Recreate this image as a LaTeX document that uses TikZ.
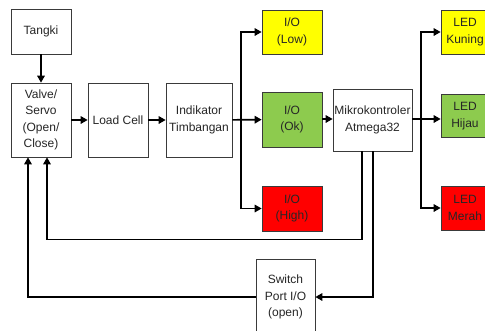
\documentclass[tikz,border=0pt]{standalone}
\usepackage{fontspec}
\setmainfont{Liberation Sans}
\usetikzlibrary{arrows.meta}
\definecolor{bxy}{HTML}{FFFF00}
\definecolor{bxg}{HTML}{8DCB4E}
\definecolor{bxr}{HTML}{FF0000}
\definecolor{bord}{HTML}{3A3A3A}
\begin{document}
\begin{tikzpicture}[x=1pt,y=-1pt,
  box/.style={draw=bord,line width=0.7pt,fill=white,align=center,inner sep=0pt,
    font=\fontsize{12}{16.5}\selectfont,text=black!85},
  conn/.style={line width=1.6pt,-{Triangle[length=7pt,width=7.5pt]}},
  plain/.style={line width=1.6pt}]
\useasboundingbox (0,0) rectangle (485,330);
\node[box,minimum width=60pt,minimum height=45pt] (tangki) at (41,31.5) {Tangki};
\node[box,minimum width=60pt,minimum height=74pt] (valve) at (41,120) {Valve/\\Servo\\(Open/\\Close)};
\node[box,minimum width=60pt,minimum height=74pt] (load) at (118,120) {Load Cell};
\node[box,minimum width=66pt,minimum height=74pt] (ind) at (199,120) {Indikator\\Timbangan};
\node[box,fill=bxy,minimum width=60pt,minimum height=44pt] (low) at (292,32) {I/O\\(Low)};
\node[box,fill=bxg,minimum width=60pt,minimum height=55pt] (ok) at (292,119.5) {I/O\\(Ok)};
\node[box,fill=bxr,minimum width=60pt,minimum height=45pt] (high) at (292,208.5) {I/O\\(High)};
\node[box,minimum width=79pt,minimum height=62pt] (mikro) at (372.5,120) {Mikrokontroler\\Atmega32};
\node[box,fill=bxy,minimum width=48pt,minimum height=44pt] (kuning) at (465,32) {LED\\Kuning};
\node[box,fill=bxg,minimum width=48pt,minimum height=43pt] (hijau) at (465,116) {LED\\Hijau};
\node[box,fill=bxr,minimum width=48pt,minimum height=44pt] (merah) at (465,208) {LED\\Merah};
\node[box,minimum width=59pt,minimum height=76pt] (switch) at (285.5,297) {Switch\\Port I/O\\(open)};
\coordinate (j1) at (241,120);
\coordinate (j2) at (421,119);
\draw[conn] (tangki) -- (valve);
\draw[conn] (valve) -- (load);
\draw[conn] (load) -- (ind);
\draw[conn] (ind) -- (ok);
\draw[conn] (j1) |- (low.west);
\draw[conn] (j1) |- (high.west);
\draw[conn] (ok.east |- 0,119) -- (mikro.west |- 0,119);
\draw[plain] (mikro.east |- j2) -- (j2);
\draw[conn] (j2) |- (kuning.west);
\draw[conn] (j2) -- (j2 -| hijau.west);
\draw[conn] (j2) |- (merah.west);
\draw[conn] ([xshift=-10.5pt]mikro.south) -- ++(0,88) -| ([xshift=6pt]valve.south);
\draw[conn] ([xshift=0.5pt]mikro.south) |- (switch.east);
\draw[conn] (switch.west) -| ([xshift=-13pt]valve.south);
\end{tikzpicture}
\end{document}
